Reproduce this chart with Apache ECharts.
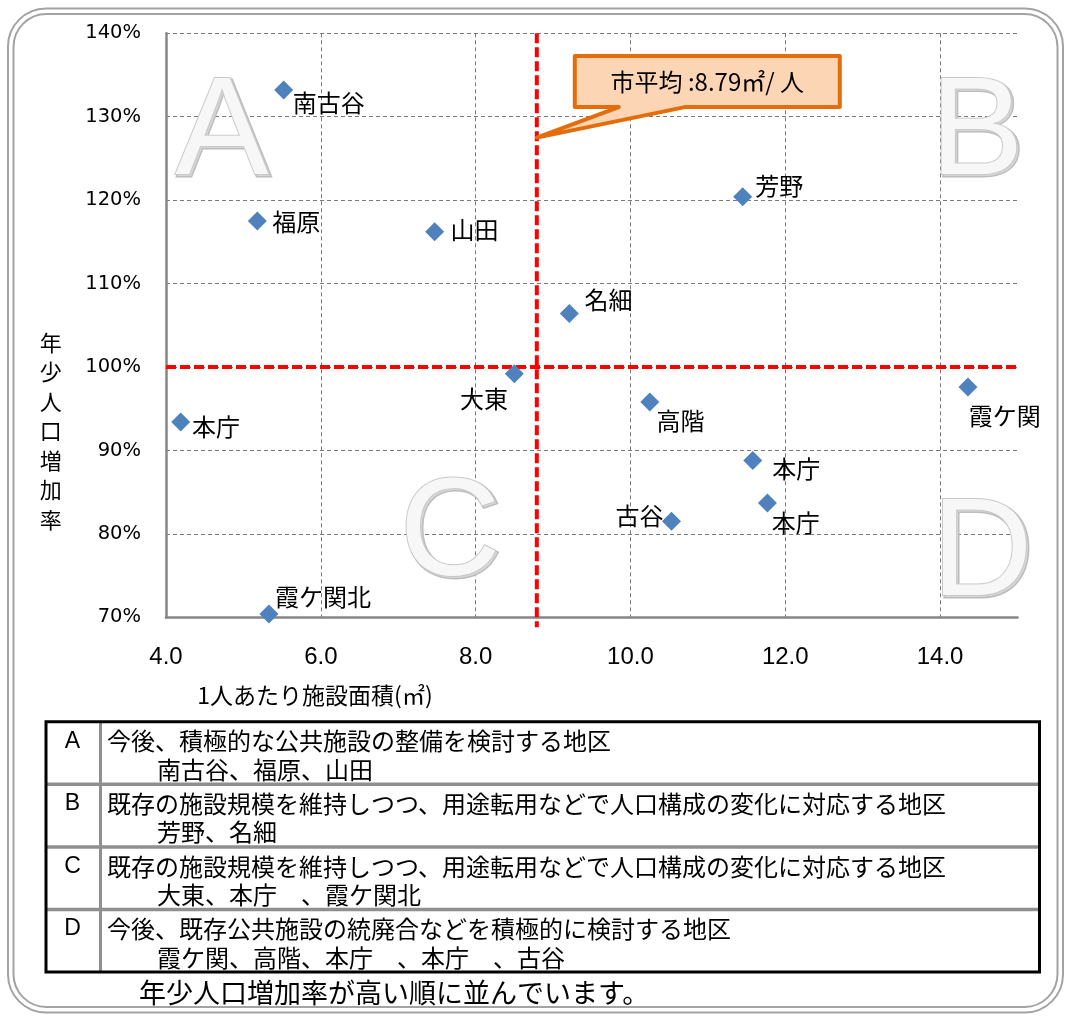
<!DOCTYPE html>
<html>
<head>
<meta charset="utf-8">
<script src="https://cdn.jsdelivr.net/npm/echarts@6/dist/echarts.min.js"></script>
<style>
html,body{margin:0;padding:0;background:#ffffff;}
#c{width:1065px;height:1016px;}
</style>
</head>
<body>
<div id="c"></div>
<script>
// ---------- data ----------
const districts = ['南古谷','福原','山田','芳野','名細','大東','本庁','霞ケ関北','高階','霞ケ関','本庁','本庁','古谷'];
const areaPerPerson = [5.52, 5.18, 7.47, 11.45, 9.21, 8.50, 4.19, 5.33, 10.25, 14.36, 11.58, 11.77, 10.53];
const youthGrowthRate = [133.2, 117.5, 116.2, 120.4, 106.4, 99.2, 93.4, 70.4, 95.8, 97.6, 88.8, 83.7, 81.5];
const xTickLabels = ['4.0','6.0','8.0','10.0','12.0','14.0'];
const yTickLabels = ['70%','80%','90%','100%','110%','120%','130%','140%'];
const cityAverageArea = 8.79;
const baselineRate = 100;
const averageLineYRange = [140, 68.8];
const baselineXRange = [4, 15.03];
const xAxisTitle = '1人あたり施設面積(㎡)';
const yAxisTitle = '年少人口増加率';
const calloutText = '市平均 :' + cityAverageArea + '㎡/ 人';
const quadrantLetters = ['A','B','C','D'];
const tableKeys = ['A','B','C','D'];
const tableDescriptions = [
  '今後、積極的な公共施設の整備を検討する地区',
  '既存の施設規模を維持しつつ、用途転用などで人口構成の変化に対応する地区',
  '既存の施設規模を維持しつつ、用途転用などで人口構成の変化に対応する地区',
  '今後、既存公共施設の統廃合などを積極的に検討する地区'
];
const tableMembers = [
  '南古谷、福原、山田',
  '芳野、名細',
  '大東、本庁　、霞ケ関北',
  '霞ケ関、高階、本庁　、本庁　、古谷'
];
const footnote = '年少人口増加率が高い順に並んでいます。';

// ---------- styles ----------
const CJK = '"Noto Sans CJK JP", "Noto Sans", sans-serif';
const LAT = '"Liberation Sans", Arial, sans-serif';
// label placement per point: [dx, dy, align]
const labelPlacement = [
  [9, 12.7, 'left'], [15, 1, 'left'], [16, -1.5, 'left'], [12.5, -10.7, 'left'],
  [15.3, -14, 'left'], [-6.3, 24.7, 'right'], [11.4, 5, 'left'], [6, -17.3, 'left'],
  [6.7, 19, 'left'], [0.7, 29.3, 'left'], [19.4, 8.6, 'left'], [4.2, 20, 'left'],
  [-7.9, -5.7, 'right']
];
// watermark letter placement (pixels)
const letterPos = [[222, 135], [977, 135.5], [450, 536.5], [982, 556]];

const points = districts.map((n, i) => ({
  name: n,
  value: [areaPerPerson[i], youthGrowthRate[i]],
  label: { offset: [labelPlacement[i][0], labelPlacement[i][1]], align: labelPlacement[i][2] }
}));

const chart = echarts.init(document.getElementById('c'), null, { renderer: 'canvas' });

const gridLineStyle = { color: '#7a7a7a', type: [4, 3], width: 1 };
const redLine = { color: '#FF0000', width: 4, type: [10, 4] };

const option = {
  animation: false,
  backgroundColor: '#ffffff',
  grid: { left: 166, top: 33.3, right: 47.5, bottom: 398.7, containLabel: false, outerBoundsMode: 'none' },
  xAxis: {
    type: 'value', min: 4, max: 15, interval: 2,
    axisLine: { show: true, onZero: false, lineStyle: { color: '#868686', width: 2.5 } },
    axisTick: { show: false },
    axisLabel: {
      margin: 28, fontSize: 24, fontFamily: LAT, color: '#000',
      formatter: v => { const s = v.toFixed(1); return xTickLabels.indexOf(s) >= 0 ? s : ''; }
    },
    splitLine: { show: true, showMinLine: false, showMaxLine: false, lineStyle: gridLineStyle }
  },
  yAxis: {
    type: 'value', min: 70, max: 140, interval: 10,
    axisLine: { show: true, onZero: false, lineStyle: { color: '#868686', width: 2.5 } },
    axisTick: { show: false },
    axisLabel: {
      margin: 25, fontSize: 19.5, fontFamily: '"DejaVu Sans", sans-serif', color: '#000',
      formatter: v => { const s = Math.round(v) + '%'; return yTickLabels.indexOf(s) >= 0 ? s : ''; }
    },
    splitLine: { show: true, showMinLine: false, lineStyle: gridLineStyle }
  },
  series: [
    {
      name: 'avgArea', type: 'line', z: 3, clip: false, silent: true,
      showSymbol: false, symbol: 'none', lineStyle: redLine,
      data: [[cityAverageArea, averageLineYRange[0]], [cityAverageArea, averageLineYRange[1]]]
    },
    {
      name: 'baseline', type: 'line', z: 3, clip: false, silent: true,
      showSymbol: false, symbol: 'none', lineStyle: redLine,
      data: [[baselineXRange[0], baselineRate], [baselineXRange[1], baselineRate]]
    },
    {
      name: 'districts', type: 'scatter', symbol: 'diamond', symbolSize: 19, z: 5, clip: false,
      itemStyle: { color: '#4F81BD', opacity: 1 },
      label: {
        show: true, formatter: '{b}', position: 'inside', verticalAlign: 'middle',
        color: '#000', fontSize: 24, fontFamily: CJK
      },
      data: points
    }
  ]
};
chart.setOption(option);

// ---------- decorations ----------
const g = [];
// double rounded frame
g.push({ type: 'rect', z: 0, silent: true, shape: { x: 8, y: 8.5, width: 1055, height: 1004, r: 38 }, style: { fill: 'none', stroke: '#a3a3a3', lineWidth: 2 } });
g.push({ type: 'rect', z: 0, silent: true, shape: { x: 13.5, y: 14, width: 1044, height: 993, r: 33 }, style: { fill: 'none', stroke: '#a3a3a3', lineWidth: 2 } });

// watermark letters (embossed look)
quadrantLetters.forEach((L, i) => {
  g.push({
    type: 'text', z: 1, silent: true, x: letterPos[i][0] + 2, y: letterPos[i][1] + 2,
    style: {
      text: L, fontSize: 140, fontFamily: LAT, align: 'center', verticalAlign: 'middle',
      fill: '#d6d6d6', stroke: '#bdbdbd', lineWidth: 3
    }
  });
  g.push({
    type: 'text', z: 1, silent: true, x: letterPos[i][0], y: letterPos[i][1],
    style: {
      text: L, fontSize: 140, fontFamily: LAT, align: 'center', verticalAlign: 'middle',
      fill: '#f7f7f7', stroke: '#c9c9c9', lineWidth: 2,
      shadowColor: 'rgba(0,0,0,0.2)', shadowBlur: 2, shadowOffsetX: 1, shadowOffsetY: 1
    }
  });
});

// callout anchored to the average line
const tip = chart.convertToPixel({ gridIndex: 0 }, [cityAverageArea, 127.5]);
const bx0 = tip[0] + 38, bx1 = tip[0] + 303, by0 = tip[1] - 81.5, by1 = tip[1] - 30.5;
g.push({
  type: 'polygon', z: 20, silent: true,
  shape: { points: [[bx0, by0], [bx1, by0], [bx1, by1], [tip[0] + 148, by1], [tip[0], tip[1]], [tip[0] + 82, by1], [bx0, by1]] },
  style: { fill: '#FCD5B5', stroke: '#E46C0A', lineWidth: 4, lineJoin: 'round' }
});
g.push({
  type: 'text', z: 21, silent: true, x: (bx0 + bx1) / 2, y: (by0 + by1) / 2,
  style: { text: calloutText, fontSize: 24, fontFamily: CJK, align: 'center', verticalAlign: 'middle', fill: '#000' }
});

// axis titles
g.push({ type: 'text', z: 10, silent: true, x: 315, y: 695, style: { text: xAxisTitle, fontSize: 23, fontFamily: CJK, align: 'center', verticalAlign: 'middle', fill: '#000' } });
g.push({ type: 'text', z: 10, silent: true, x: 50.7, y: 431, style: { text: yAxisTitle.split('').join('\n'), fontSize: 22, fontFamily: CJK, lineHeight: 29.5, align: 'center', verticalAlign: 'middle', fill: '#000' } });

// table
const tTop = 721.7, rowH = 62.6, tL = 46, tR = 1039.5, colX = 100.5;
for (let k = 1; k < 4; k++) {
  g.push({ type: 'line', z: 10, silent: true, shape: { x1: tL, y1: tTop + k * rowH, x2: tR, y2: tTop + k * rowH }, style: { stroke: '#8f8f8f', lineWidth: 3.5 } });
}
g.push({ type: 'line', z: 10, silent: true, shape: { x1: colX, y1: tTop, x2: colX, y2: tTop + 4 * rowH }, style: { stroke: '#8f8f8f', lineWidth: 3 } });
g.push({ type: 'rect', z: 11, silent: true, shape: { x: tL, y: tTop, width: tR - tL, height: 4 * rowH }, style: { fill: 'none', stroke: '#000', lineWidth: 3 } });
tableKeys.forEach((k, i) => {
  const top = tTop + i * rowH;
  g.push({ type: 'text', z: 12, silent: true, x: 72.5, y: top + 19.5, style: { text: k, fontSize: 23, fontFamily: LAT, align: 'center', verticalAlign: 'middle', fill: '#000' } });
  g.push({ type: 'text', z: 12, silent: true, x: 107, y: top + 19.5, style: { text: tableDescriptions[i], fontSize: 24, fontFamily: CJK, align: 'left', verticalAlign: 'middle', fill: '#000' } });
  g.push({ type: 'text', z: 12, silent: true, x: 157, y: top + 48, style: { text: tableMembers[i], fontSize: 24, fontFamily: CJK, align: 'left', verticalAlign: 'middle', fill: '#000' } });
});
g.push({ type: 'text', z: 12, silent: true, x: 139, y: 993, style: { text: footnote, fontSize: 27, fontFamily: CJK, align: 'left', verticalAlign: 'middle', fill: '#000' } });

chart.setOption({ graphic: g });
</script>
</body>
</html>
